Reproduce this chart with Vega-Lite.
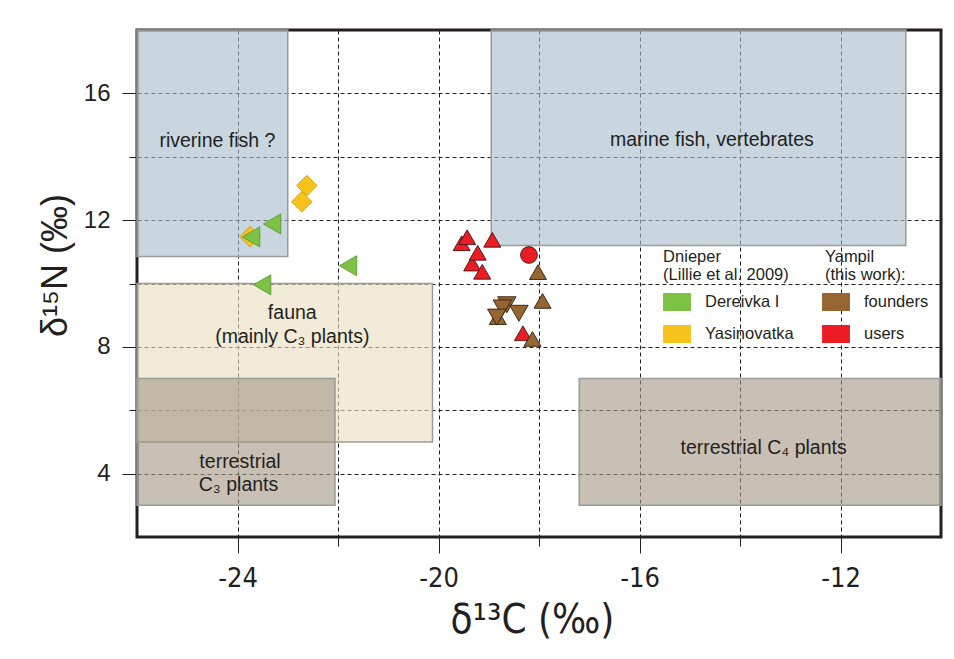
{
  "$schema": "https://vega.github.io/schema/vega-lite/v6.json",
  "width": 804,
  "height": 507,
  "autosize": {"type": "none"},
  "padding": {"left": 137, "top": 30, "right": 13, "bottom": 122},
  "background": "#ffffff",
  "datasets": {
    "regions": [
      {"region": "riverine fish", "d13C": -26, "d13C_end": -23, "d15N": 10.85, "d15N_end": 18},
      {"region": "marine fish", "d13C": -18.95, "d13C_end": -10.7, "d15N": 11.2, "d15N_end": 18},
      {"region": "fauna", "d13C": -26, "d13C_end": -20.12, "d15N": 5, "d15N_end": 10},
      {"region": "terrestrial C3", "d13C": -26, "d13C_end": -22.06, "d15N": 3, "d15N_end": 7},
      {"region": "terrestrial C4", "d13C": -17.2, "d13C_end": -10, "d15N": 3, "d15N_end": 7}
    ],
    "labels": [
      {"text": "riverine fish ?", "d13C": -24.4, "d15N": 14.51},
      {"text": "marine fish, vertebrates", "d13C": -14.56, "d15N": 14.53},
      {"text": "fauna", "d13C": -22.91, "d15N": 9.06},
      {"text": "(mainly C₃ plants)", "d13C": -22.91, "d15N": 8.32},
      {"text": "terrestrial", "d13C": -23.95, "d15N": 4.38},
      {"text": "C₃ plants", "d13C": -23.98, "d15N": 3.64},
      {"text": "terrestrial C₄ plants", "d13C": -13.53, "d15N": 4.81}
    ],
    "heads": [
      {"text": "Dnieper", "d13C": -15.53, "d15N": 10.85},
      {"text": "(Lillie et al. 2009)", "d13C": -15.53, "d15N": 10.27},
      {"text": "Yampil", "d13C": -12.31, "d15N": 10.85},
      {"text": "(this work):", "d13C": -12.31, "d15N": 10.27}
    ],
    "points": [
      {"group": "Yasinovatka", "marker": "diamond", "d13C": -22.62, "d15N": 13.09},
      {"group": "Yasinovatka", "marker": "diamond", "d13C": -22.72, "d15N": 12.58},
      {"group": "Yasinovatka", "marker": "diamond", "d13C": -23.75, "d15N": 11.48},
      {"group": "Dereivka I", "marker": "triangle-left", "d13C": -23.31, "d15N": 11.88},
      {"group": "Dereivka I", "marker": "triangle-left", "d13C": -23.73, "d15N": 11.47},
      {"group": "Dereivka I", "marker": "triangle-left", "d13C": -23.51, "d15N": 9.96},
      {"group": "Dereivka I", "marker": "triangle-left", "d13C": -21.8, "d15N": 10.56},
      {"group": "users", "marker": "triangle-up", "d13C": -19.54, "d15N": 11.27},
      {"group": "users", "marker": "triangle-up", "d13C": -19.43, "d15N": 11.46},
      {"group": "users", "marker": "triangle-up", "d13C": -18.93, "d15N": 11.38},
      {"group": "users", "marker": "triangle-up", "d13C": -19.33, "d15N": 10.63},
      {"group": "users", "marker": "triangle-up", "d13C": -19.22, "d15N": 10.97},
      {"group": "users", "marker": "triangle-up", "d13C": -19.13, "d15N": 10.37},
      {"group": "users", "marker": "triangle-up", "d13C": -18.32, "d15N": 8.43},
      {"group": "users", "marker": "circle", "d13C": -18.2, "d15N": 10.9},
      {"group": "founders", "marker": "triangle-up", "d13C": -18.02, "d15N": 10.36},
      {"group": "founders", "marker": "triangle-up", "d13C": -17.93, "d15N": 9.45},
      {"group": "founders", "marker": "triangle-up", "d13C": -18.82, "d15N": 8.94},
      {"group": "founders", "marker": "triangle-up", "d13C": -18.13, "d15N": 8.25},
      {"group": "founders", "marker": "triangle-down", "d13C": -18.64, "d15N": 9.33},
      {"group": "founders", "marker": "triangle-down", "d13C": -18.73, "d15N": 9.23},
      {"group": "founders", "marker": "triangle-down", "d13C": -18.4, "d15N": 9.06},
      {"group": "founders", "marker": "triangle-down", "d13C": -18.84, "d15N": 8.94}
    ]
  },
  "encoding": {
    "x": {
      "field": "d13C",
      "type": "quantitative",
      "scale": {"domain": [-26, -10], "nice": false, "zero": false},
      "axis": {
        "title": "δ¹³C (‰)",
        "values": [-24, -22, -20, -18, -16, -14, -12],
        "grid": true,
        "gridDash": [4, 3],
        "gridColor": "#231f20",
        "gridWidth": 1,
        "gridOpacity": 1,
        "domain": false,
        "tickColor": "#231f20",
        "tickWidth": 1,
        "tickSize": {"condition": {"test": "datum.value % 4 === 0", "value": 16}, "value": 9},
        "labelExpr": "datum.value % 4 === 0 ? '' + datum.value : ''",
        "labelFont": "Liberation Sans Narrow, DejaVu Sans Condensed, Liberation Sans",
        "labelFontSize": 27,
        "labelColor": "#231f20",
        "labelPadding": 12,
        "titleFont": "Liberation Sans Narrow, DejaVu Sans Condensed, Liberation Sans",
        "titleFontSize": 40,
        "titleFontWeight": "normal",
        "titleColor": "#231f20",
        "titleX": 395,
        "titleY": 83,
        "titleAlign": "center",
        "titleBaseline": "middle"
      }
    },
    "y": {
      "field": "d15N",
      "type": "quantitative",
      "scale": {"domain": [2, 18], "nice": false, "zero": false},
      "axis": {
        "title": "δ¹⁵N (‰)",
        "values": [4, 6, 8, 10, 12, 14, 16],
        "grid": true,
        "gridDash": [4, 3],
        "gridColor": "#231f20",
        "gridWidth": 1,
        "gridOpacity": 1,
        "domain": false,
        "tickColor": "#231f20",
        "tickWidth": 1,
        "tickSize": {"condition": {"test": "datum.value % 4 === 0", "value": 15}, "value": 8},
        "labelExpr": "datum.value % 4 === 0 ? '' + datum.value : ''",
        "labelFont": "Liberation Sans",
        "labelFontSize": 24,
        "labelColor": "#231f20",
        "labelPadding": 12,
        "titleFont": "Liberation Sans",
        "titleFontSize": 36,
        "titleFontWeight": "normal",
        "titleColor": "#231f20",
        "titleX": -82,
        "titleY": 235,
        "titleAlign": "center",
        "titleBaseline": "middle"
      }
    }
  },
  "layer": [
    {
      "data": {"name": "regions"},
      "mark": {"type": "rect", "fillOpacity": 0.6, "stroke": "#9a9a9a", "strokeWidth": 1.5, "strokeOpacity": 1},
      "encoding": {
        "x2": {"field": "d13C_end"},
        "y2": {"field": "d15N_end"},
        "fill": {
          "field": "region",
          "type": "nominal",
          "scale": {
            "domain": ["riverine fish", "marine fish", "fauna", "terrestrial C3", "terrestrial C4"],
            "range": ["#a5bbca", "#a5bbca", "#e8debc", "#a59684", "#a59684"]
          },
          "legend": null
        }
      }
    },
    {
      "data": {"name": "labels"},
      "mark": {"type": "text", "font": "Liberation Sans", "fontSize": 19.5, "color": "#231f20", "align": "center", "baseline": "middle"},
      "encoding": {"text": {"field": "text"}}
    },
    {
      "data": {"name": "heads"},
      "mark": {"type": "text", "font": "Liberation Sans", "fontSize": 16.5, "color": "#231f20", "align": "left", "baseline": "middle"},
      "encoding": {"text": {"field": "text"}}
    },
    {
      "data": {"name": "points"},
      "transform": [{"filter": "datum.marker === 'diamond'"}],
      "mark": {"type": "point", "shape": "diamond", "filled": true, "size": 420, "opacity": 1, "stroke": "#c9960c", "strokeWidth": 0.8},
      "encoding": {
        "color": {
          "field": "group",
          "type": "nominal",
          "scale": {"domain": ["Dereivka I", "Yasinovatka", "founders", "users"], "range": ["#7dc242", "#f7c31a", "#976532", "#ec1c24"]},
          "legend": {
            "orient": "none",
            "legendX": 531,
            "legendY": 263,
            "title": null,
            "columns": 2,
            "direction": "vertical",
            "columnPadding": 28,
            "rowPadding": 14,
            "padding": 0,
            "symbolType": "M-1.55,-1H1.55V1H-1.55Z",
            "symbolSize": 324,
            "symbolStrokeWidth": 0,
            "symbolOpacity": 1,
            "labelOffset": 19,
            "labelFont": "Liberation Sans",
            "labelFontSize": 16.5,
            "labelColor": "#231f20"
          }
        }
      }
    },
    {
      "data": {"name": "points"},
      "transform": [{"filter": "datum.marker === 'triangle-left'"}],
      "mark": {"type": "point", "shape": "triangle-left", "filled": true, "size": 400, "opacity": 1, "stroke": "#56902c", "strokeWidth": 0.8},
      "encoding": {
        "color": {"field": "group", "type": "nominal", "scale": {"domain": ["Dereivka I", "Yasinovatka", "founders", "users"], "range": ["#7dc242", "#f7c31a", "#976532", "#ec1c24"]}, "legend": null}
      }
    },
    {
      "data": {"name": "points"},
      "transform": [{"filter": "datum.group === 'users' && datum.marker === 'triangle-up'"}],
      "mark": {"type": "point", "shape": "triangle-up", "filled": true, "size": 290, "opacity": 1, "stroke": "#3d1414", "strokeWidth": 0.9},
      "encoding": {
        "color": {"field": "group", "type": "nominal", "scale": {"domain": ["Dereivka I", "Yasinovatka", "founders", "users"], "range": ["#7dc242", "#f7c31a", "#976532", "#ec1c24"]}, "legend": null}
      }
    },
    {
      "data": {"name": "points"},
      "transform": [{"filter": "datum.marker === 'circle'"}],
      "mark": {"type": "point", "shape": "circle", "filled": true, "size": 280, "opacity": 1, "stroke": "#3d1414", "strokeWidth": 0.9},
      "encoding": {
        "color": {"field": "group", "type": "nominal", "scale": {"domain": ["Dereivka I", "Yasinovatka", "founders", "users"], "range": ["#7dc242", "#f7c31a", "#976532", "#ec1c24"]}, "legend": null}
      }
    },
    {
      "data": {"name": "points"},
      "transform": [{"filter": "datum.group === 'founders' && datum.marker === 'triangle-up'"}],
      "mark": {"type": "point", "shape": "triangle-up", "filled": true, "size": 290, "opacity": 1, "stroke": "#2e2013", "strokeWidth": 0.9},
      "encoding": {
        "color": {"field": "group", "type": "nominal", "scale": {"domain": ["Dereivka I", "Yasinovatka", "founders", "users"], "range": ["#7dc242", "#f7c31a", "#976532", "#ec1c24"]}, "legend": null}
      }
    },
    {
      "data": {"name": "points"},
      "transform": [{"filter": "datum.marker === 'triangle-down'"}],
      "mark": {"type": "point", "shape": "triangle-down", "filled": true, "size": 340, "opacity": 1, "stroke": "#2e2013", "strokeWidth": 0.9},
      "encoding": {
        "color": {"field": "group", "type": "nominal", "scale": {"domain": ["Dereivka I", "Yasinovatka", "founders", "users"], "range": ["#7dc242", "#f7c31a", "#976532", "#ec1c24"]}, "legend": null}
      }
    }
  ],
  "config": {
    "view": {"stroke": "#231f20", "strokeWidth": 3},
    "font": "Liberation Sans"
  }
}
